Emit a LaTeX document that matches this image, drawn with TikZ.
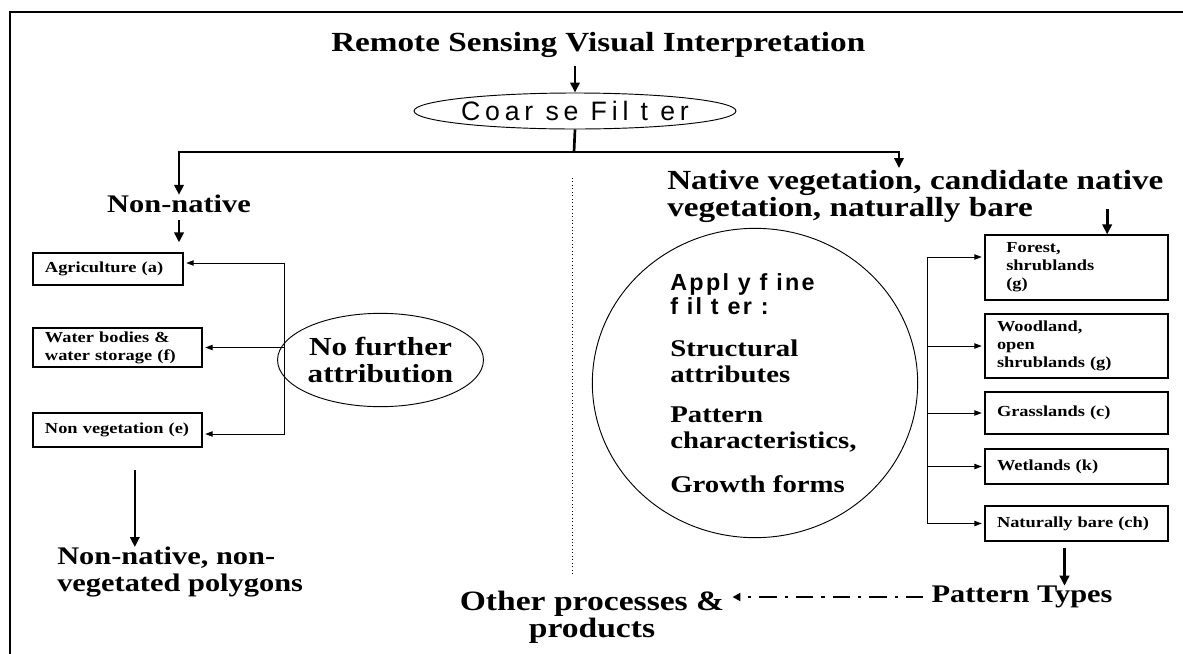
\documentclass[tikz,border=0pt]{standalone}
\usepackage{fontspec}
\setmainfont{Liberation Serif}
\newfontfamily\garfont[FakeStretch=1.2]{Liberation Serif}
\newfontfamily\coarsefont[LetterSpace=18]{Liberation Sans}
\newfontfamily\applyfont[LetterSpace=10]{Liberation Sans}
\usetikzlibrary{arrows.meta,shapes.geometric}

\begin{document}
\begin{tikzpicture}[x=0.75pt,y=-0.75pt,
	hdtxt/.style={font=\garfont\bfseries\fontsize{20.75}{20}\selectfont,inner sep=0pt},
	bigtxt/.style={font=\garfont\bfseries\fontsize{19}{20}\selectfont,inner sep=0pt},
	midtxt/.style={font=\garfont\bfseries\fontsize{18}{19.5}\selectfont,inner sep=0pt},
	boxtxt/.style={draw,line width=0.9pt,font=\garfont\bfseries\fontsize{11.5}{13.5}\selectfont,align=left,inner xsep=9pt,inner ysep=0pt},
	oval/.style={draw,ellipse,line width=0.7pt,inner sep=0pt},
	thk/.style={line width=2pt,-{Triangle[length=7.5pt,width=7pt]}},
	conn/.style={line width=0.7pt,-{Triangle[length=5.5pt,width=4pt]},shorten >=2pt}]
	\useasboundingbox (0,0) rectangle (1183,654);
	\draw[line width=1.5pt] (10,654) -- (10,12) -- (1183,12);

	% coarse filter
	\node[hdtxt,anchor=west] (rs) at (331,45) {Remote Sensing Visual Interpretation};
	\node[oval,minimum width=219pt,minimum height=27pt,font=\coarsefont\fontsize{20}{22}\selectfont] (coarse) at (575,111) {Coar se Fil t er};
	\coordinate (split) at (574,152);
	\coordinate (nattip) at (899,168);
	\draw[thk,shorten <=6pt] (rs.south -| coarse.north) -- (coarse.north);
	\draw[line width=2pt] (coarse.south) -- (split);
	\node[bigtxt] (nonnat) at (179,204) {Non-native};
	\node[hdtxt,anchor=north west,align=left] (native) at (667,170) {Native vegetation, candidate native\\vegetation, naturally bare};
	\draw[thk] (split) -| (nonnat.north);
	\draw[thk] (split) -| (nattip);

	% non-native side
	\node[boxtxt,text width=94.5pt,minimum height=24pt] (agri) at (108,269) {Agriculture (a)};
	\node[boxtxt,text width=108.75pt,minimum height=29.25pt] (water) at (117.5,347.5) {Water bodies \&\\water storage (f)};
	\node[boxtxt,text width=108.75pt,minimum height=25.5pt] (nonveg) at (117.5,430) {Non vegetation (e)};
	\draw[thk,shorten <=5pt,shorten >=7.5pt] (nonnat.south) -- (nonnat.south |- agri.north);
	\node[oval,midtxt,font=\garfont\bfseries\fontsize{19.5}{20}\selectfont,minimum width=145pt,minimum height=70pt,align=center] (nofurther) at (380.5,360) {No further\\attribution};
	\coordinate (ltop) at (284,263);
	\draw[conn] (ltop) -- (ltop -| agri.east);
	\draw[conn] (ltop |- water.east) -- (water.east);
	\draw[conn] (ltop) |- ([yshift=-3pt]nonveg.east);
	\node[bigtxt,anchor=north west,align=left] (nnpoly) at (57,547) {Non-native, non-\\vegetated polygons};
	\draw[thk,shorten <=17pt] ([xshift=13pt]nonveg.south) -- ([xshift=13pt]nonveg.south |- nnpoly.north);

	\draw[dotted,line width=0.6pt] (572,178) -- (572,575);

	% fine filter
	\node[oval,minimum width=244pt,minimum height=232pt] (fine) at (755,383) {};
	\node[font=\applyfont\bfseries\fontsize{17.5}{18}\selectfont,inner sep=0pt,anchor=west,align=left] (apply) at (670,294) {Appl y f ine\\f il t er :};
	\node[midtxt,anchor=west,align=left] (struct) at (670,361) {Structural\\attributes};
	\node[midtxt,anchor=west,align=left] (patt) at (670,429) {Pattern\\characteristics,};
	\node[midtxt,anchor=west] (growth) at (670,484) {Growth forms};

	% native side
	\node[boxtxt,inner xsep=16pt,text width=105.25pt,minimum height=48.75pt] (forest) at (1076.5,267.5) {Forest,\\shrublands\\(g)};
	\node[boxtxt,text width=119.25pt,minimum height=48pt] (wood) at (1076.5,346) {Woodland,\\open\\shrublands (g)};
	\node[boxtxt,text width=119.25pt,minimum height=31.5pt] (grass) at (1076.5,413) {Grasslands (c)};
	\node[boxtxt,text width=119.25pt,minimum height=26.25pt] (wet) at (1076.5,466.5) {Wetlands (k)};
	\node[boxtxt,text width=119.25pt,minimum height=26.25pt] (bare) at (1076.5,523.5) {Naturally bare (ch)};
	\draw[thk] ([xshift=23pt,yshift=10pt]forest.north |- native.south) -- ([xshift=23pt]forest.north);
	\coordinate (rtop) at (927,257);
	\draw[conn] (rtop) -- (rtop -| forest.west);
	\draw[conn] (rtop |- wood.west) -- (wood.west);
	\draw[conn] (rtop |- grass.west) -- (grass.west);
	\draw[conn] (rtop |- wet.west) -- (wet.west);
	\draw[conn] (rtop) |- (bare.west);

	% pattern types
	\node[bigtxt] (ptypes) at (1022,597) {Pattern Types};
	\node[bigtxt,font=\garfont\bfseries\fontsize{21}{20}\selectfont,align=center] (other) at (592,617) {Other processes \&\\products};
	\draw[thk,shorten <=5pt] ([xshift=-9pt]bare.south) -- ([xshift=-9pt]bare.south |- ptypes.north);
	\draw[line width=1.8pt,dash pattern=on 13pt off 6pt on 2.5pt off 6pt,-{Triangle[length=6pt,width=6pt]},shorten <=6pt,shorten >=6pt] (ptypes.west) -- (ptypes.west -| other.east);
\end{tikzpicture}
\end{document}
